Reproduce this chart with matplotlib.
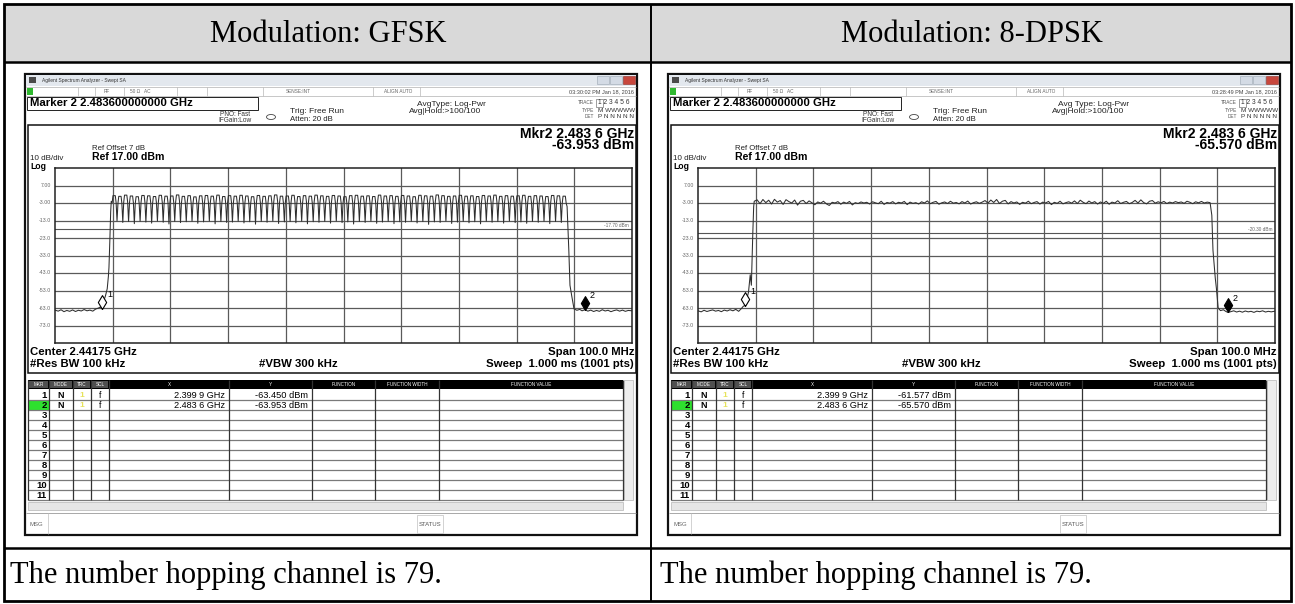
import numpy as np
import matplotlib
matplotlib.use("Agg")
import matplotlib.pyplot as plt
from matplotlib.patches import Rectangle, Ellipse

W, H = 1295, 604

# ---- values ----
modulations = ["GFSK", "8-DPSK"]
footer = "The number hopping channel is 79."
timestamps = ["03:30:02 PM Jan 18, 2016", "03:28:49 PM Jan 18, 2016"]
avg_labels = ["AvgType: Log-Pwr", "Avg Type: Log-Pwr"]
center_mhz = 2441.75
span_mhz = 100.0
ref_dbm = 17.0
db_div = 10.0
disp_line = [-17.70, -20.30]
mkr_freq = [2399.9, 2483.6]
mkr_x_text = ["2.399 9 GHz", "2.483 6 GHz"]
mkr_dbm = [[-63.450, -63.953], [-61.577, -65.570]]
ytick_labels = ["7.00", "-3.00", "-13.0", "-23.0", "-33.0", "-43.0", "-53.0", "-63.0", "-73.0"]
table_cols = ["MKR", "MODE", "TRC", "SCL", "X", "Y", "FUNCTION", "FUNCTION WIDTH", "FUNCTION VALUE"]

channels = np.arange(2402, 2481)  # 79 hopping channels, MHz

gfsk_peak = [1.2, 0.8, 1.5, 1.0, 0.6, 1.3, 1.1, 0.7, 1.4, 0.9,
             1.0, 1.6, 0.8, 1.2, 0.5, 1.1, 1.3, 0.9, 1.5, 0.7,
             1.2, 0.9, 1.4, 1.0, 0.6, 1.3, 0.8, 1.1, 1.6, 0.9,
             1.0, 1.4, 0.7, 1.2, 0.9, 1.5, 1.1, 0.8, 1.3, 1.0,
             0.6, 1.2, 1.4, 0.9, 1.1, 0.7, 1.5, 1.0, 1.2, 0.8,
             1.3, 1.0, 0.6, 1.4, 1.1, 0.9, 1.6, 1.2, 0.8, 1.0,
             1.4, 0.9, 1.1, 0.7, 1.3, 1.0, 1.5, 0.8, 1.2, 0.9,
             1.1, 1.4, 0.8, 1.2, 1.0, 0.7, 1.3, 1.1, 0.9]
gfsk_trough = [-13.2, -14.1, -13.6, -14.8, -13.4, -13.9, -14.5, -13.3, -14.0, -15.0,
               -13.5, -14.2, -13.7, -13.4, -14.6, -13.8, -13.3, -14.9, -13.6, -14.1,
               -13.9, -13.4, -14.4, -13.7, -15.1, -13.5, -14.0, -13.3, -14.7, -13.8,
               -13.6, -14.3, -13.4, -14.9, -13.7, -14.0, -13.5, -14.5, -13.3, -14.2,
               -13.8, -15.0, -13.6, -14.1, -13.4, -14.6, -13.9, -13.5, -14.8, -13.7,
               -14.0, -13.4, -14.4, -13.6, -15.2, -13.8, -14.1, -13.3, -14.7, -13.9,
               -13.5, -14.3, -13.7, -14.9, -13.4, -14.0, -13.6, -14.5, -13.3, -14.2,
               -13.8, -14.6, -13.5, -14.0, -13.4, -14.8, -13.6, -14.1]

gfsk_left_f = [2391.75, 2392.3, 2392.8, 2393.3, 2393.8, 2394.3, 2394.8, 2395.3, 2395.8,
               2396.3, 2396.8, 2397.3, 2397.8, 2398.3, 2398.8, 2399.3, 2399.6, 2399.9,
               2400.2, 2400.5, 2400.8, 2401.0, 2401.1, 2401.25, 2401.4, 2401.5]
gfsk_left_db = [-64.2, -64.8, -64.0, -65.1, -64.4, -64.9, -64.1, -65.0, -64.3,
                -64.7, -63.9, -64.6, -64.2, -64.8, -63.6, -63.0, -62.4, -63.45,
                -59.0, -56.0, -52.0, -45.0, -40.0, -25.0, -8.0, -2.0]
gfsk_right_f = [2480.5, 2480.8, 2481.0, 2481.3, 2481.7, 2482.2, 2482.7, 2483.1, 2483.6,
                2484.1, 2484.6, 2485.1, 2485.6, 2486.1, 2486.6, 2487.1, 2487.6, 2488.1,
                2488.6, 2489.1, 2489.6, 2490.1, 2490.6, 2491.1, 2491.75]
gfsk_right_db = [-5.0, -30.0, -50.0, -56.0, -63.5, -64.3, -63.8, -64.6, -63.953,
                 -64.8, -64.2, -65.0, -64.4, -64.9, -64.0, -64.7, -64.3, -65.1,
                 -64.5, -64.1, -64.8, -64.2, -64.9, -64.4, -64.6]

# 8-DPSK plateau, every 0.5 MHz from 2401.5 to 2480.5 MHz
dpsk_top = [-2.0, -1.2, -3.4, -1.0, -2.8, -1.4, -3.6, -0.9, -2.5, -1.6,
            -3.8, -1.1, -2.2, -3.0, -1.3, -4.2, -2.0, -1.5, -3.3, -1.8,
            -2.9, -4.0, -2.4, -3.1, -2.0, -3.5, -4.4, -2.6, -3.0, -2.2,
            -3.7, -2.5, -3.2, -2.1, -4.1, -2.8, -3.3, -2.4, -3.0, -2.6,
            -3.6, -2.3, -2.9, -3.4, -2.0, -3.8, -2.7, -3.1, -2.2, -3.5,
            -2.6, -3.0, -2.1, -3.9, -2.5, -3.2, -2.8, -3.6, -2.3, -3.0,
            -1.8, -3.4, -2.6, -2.1, -3.7, -2.9, -2.4, -3.3, -2.0, -3.1,
            -2.7, -3.5, -2.2, -3.0, -1.9, -3.6, -2.8, -2.3, -3.2, -2.5,
            -1.6, -3.1, -1.3, -2.7, -1.0, -3.3, -2.0, -1.5, -3.5, -2.2,
            -3.0, -2.4, -3.8, -2.6, -3.1, -2.0, -3.4, -2.7, -2.2, -3.6,
            -2.5, -3.0, -2.1, -3.9, -2.6, -3.2, -2.0, -3.5, -2.8, -2.3,
            -3.1, -1.8, -3.3, -1.4, -2.6, -3.4, -1.9, -3.0, -2.2, -3.6,
            -2.4, -3.2, -2.0, -3.7, -2.5, -3.0, -1.7, -3.3, -2.6, -2.1,
            -3.4, -2.7, -1.5, -3.0, -1.2, -2.8, -3.5, -2.0, -1.6, -3.1,
            -2.3, -2.9, -2.1, -3.3, -2.5, -3.0, -2.2, -2.8, -2.4, -3.2,
            -2.0, -2.6, -3.4, -2.3, -2.9, -2.1, -3.0, -2.5, -2.8]
dpsk_left_f = [2391.75, 2392.3, 2392.8, 2393.3, 2393.8, 2394.3, 2394.8, 2395.3, 2395.8,
               2396.3, 2396.8, 2397.3, 2397.8, 2398.3, 2398.8, 2399.3, 2399.6, 2399.9,
               2400.2, 2400.5, 2400.8, 2401.0, 2401.1, 2401.25, 2401.4]
dpsk_left_db = [-64.6, -65.2, -64.3, -65.0, -64.5, -64.1, -64.8, -64.4, -65.1,
                -64.2, -64.7, -64.0, -64.6, -63.8, -64.9, -63.2, -62.0, -61.577,
                -58.0, -54.0, -44.0, -50.0, -38.0, -20.0, -5.0]
dpsk_right_f = [2480.8, 2481.0, 2481.4, 2481.6, 2481.9, 2482.3, 2482.8, 2483.2, 2483.6,
                2484.1, 2484.6, 2485.1, 2485.6, 2486.1, 2486.6, 2487.1, 2487.6, 2488.1,
                2488.6, 2489.1, 2489.6, 2490.1, 2490.6, 2491.1, 2491.75]
dpsk_right_db = [-10.0, -30.0, -46.0, -52.0, -63.0, -64.5, -64.0, -64.9, -65.57,
                 -65.1, -64.6, -65.3, -64.8, -65.4, -64.7, -65.2, -64.9, -65.5,
                 -64.8, -65.1, -64.6, -65.3, -64.9, -65.2, -64.8]


def gfsk_trace():
    f, d = list(gfsk_left_f), list(gfsk_left_db)
    for k, (c, p) in enumerate(zip(channels, gfsk_peak)):
        f += [c - 0.34, c - 0.2, c + 0.2, c + 0.34]
        d += [p - 4.0, p, p, p - 4.0]
        if k < len(gfsk_trough):
            f.append(c + 0.5)
            d.append(gfsk_trough[k])
    return f + gfsk_right_f, d + gfsk_right_db


def dpsk_trace():
    top_f = list(2401.5 + 0.5 * np.arange(len(dpsk_top)))
    return (dpsk_left_f + top_f + dpsk_right_f,
            dpsk_left_db + dpsk_top + dpsk_right_db)


traces = [gfsk_trace(), dpsk_trace()]

SANS = "Liberation Sans"
SERIF = "Liberation Serif"

fig = plt.figure(figsize=(W / 100, H / 100), dpi=100)
bg = fig.add_axes([0, 0, 1, 1])
bg.set_xlim(0, W)
bg.set_ylim(H, 0)
bg.axis("off")


def box(x0, y0, x1, y1, fc="none", ec="black", lw=0.8, z=2):
    bg.add_patch(Rectangle((x0, y0), x1 - x0, y1 - y0, facecolor=fc,
                           edgecolor=ec, linewidth=lw, zorder=z))


def line(xs, ys, c="black", lw=0.8, z=3):
    bg.plot(xs, ys, color=c, lw=lw, zorder=z, solid_capstyle="butt")


def txt(x, y, s, size, ha="left", c="black", w="normal", fam=SANS, z=5):
    bg.text(x, y, s, fontsize=size, ha=ha, va="center", color=c,
            fontweight=w, family=fam, zorder=z)


def draw_panel(i, dx):
    X = lambda v: v + dx
    # screen outline and title bar
    box(X(25), 74, X(637), 535, fc="white", ec="#111111", lw=1.6, z=1)
    box(X(26), 75, X(636), 86, fc="#e3e8ee", ec="none")
    box(X(29), 77, X(36), 83, fc="#4a4a4a", ec="none", z=3)
    txt(X(42), 80.5, "Agilent Spectrum Analyzer - Swept SA", 3.5, c="#333333")
    box(X(597), 76, X(609), 84, fc="#d4dbe5", ec="#9aa4b0", lw=0.4, z=3)
    box(X(610), 76, X(622), 84, fc="#d4dbe5", ec="#9aa4b0", lw=0.4, z=3)
    box(X(623), 76, X(635), 84, fc="#c8473d", ec="#8a2a22", lw=0.4, z=3)

    # status row
    line([X(26), X(636)], [87, 87], c="#b0b0b0", lw=0.5)
    line([X(26), X(636)], [96, 96], c="#b0b0b0", lw=0.5)
    box(X(27), 88, X(33), 95, fc="#2fb82f", ec="none", z=3)
    for sx in [78, 95, 124, 177, 207, 263, 373, 420]:
        line([X(sx), X(sx)], [87, 96], c="#b8b8b8", lw=0.5)
    txt(X(107), 91.5, "RF", 3.4, ha="center", c="#666666")
    txt(X(140), 91.5, "50 \u03a9   AC", 3.4, ha="center", c="#666666")
    txt(X(298), 91.5, "SENSE:INT", 3.4, ha="center", c="#666666")
    txt(X(398), 91.5, "ALIGN AUTO", 3.4, ha="center", c="#666666")
    txt(X(634), 91.5, timestamps[i], 4.0, ha="right", c="#444444")

    # marker entry + settings
    box(X(27), 97, X(258), 110, ec="#222222", lw=0.7)
    txt(X(30), 103.5, "Marker 2 2.483600000000 GHz", 8.2, w="bold")
    txt(X(250), 114, "PNO: Fast", 4.7, ha="right", c="#333333")
    txt(X(252), 120.5, "IFGain:Low", 4.7, ha="right", c="#333333")
    bg.add_patch(Ellipse((X(271), 117), 9, 5, facecolor="none",
                         edgecolor="#444444", lw=0.6, zorder=3))
    txt(X(290), 111.5, "Trig: Free Run", 6.0, c="#222222")
    txt(X(290), 119.5, "Atten: 20 dB", 5.6, c="#222222")
    txt(X(451), 104, avg_labels[i], 6.0, ha="center", c="#222222")
    txt(X(445), 111.5, "Avg|Hold:>100/100", 6.0, ha="center", c="#222222")
    txt(X(594), 103, "TRACE", 3.4, ha="right", c="#555555")
    txt(X(594), 110, "TYPE", 3.4, ha="right", c="#555555")
    txt(X(594), 117, "DET", 3.4, ha="right", c="#555555")
    box(X(596), 99, X(603), 107, ec="#555555", lw=0.4)
    txt(X(598), 103, "1 2 3 4 5 6", 4.8, c="#333333")
    txt(X(598), 110, "M WWWWW", 4.6, c="#333333")
    txt(X(598), 117, "P N N N N N", 4.6, c="#333333")

    # graph frame
    box(X(28), 125, X(636), 373, ec="#111111", lw=1.1)
    txt(X(634), 133.5, "Mkr2 2.483 6 GHz", 10.0, ha="right", w="bold")
    txt(X(634), 145, "%.3f dBm" % mkr_dbm[i][1], 10.0, ha="right", w="bold")
    txt(X(92), 148, "Ref Offset 7 dB", 5.6, c="#222222")
    txt(X(30), 158, "10 dB/div", 5.8, c="#222222")
    txt(X(92), 157.5, "Ref 17.00 dBm", 7.6, w="bold")
    txt(X(30), 166.5, "Log", 6.2, w="bold")

    # spectrum plot
    px0, px1, py0, py1 = 55, 632, 168, 343
    ax = fig.add_axes([X(px0) / W, 1 - py1 / H, (px1 - px0) / W, (py1 - py0) / H])
    f0 = center_mhz - span_mhz / 2
    ax.set_xlim(f0, f0 + span_mhz)
    ax.set_ylim(ref_dbm - 10 * db_div, ref_dbm)
    ax.set_xticks(f0 + np.arange(1, 10) * span_mhz / 10)
    ax.set_yticks(ref_dbm - np.arange(1, 10) * db_div)
    ax.grid(True, color="#5a5a5a", lw=0.9)
    ax.tick_params(length=0, labelbottom=False, labelleft=False)
    for s in ax.spines.values():
        s.set_color("#222222")
        s.set_linewidth(1.1)
    ax.axhline(disp_line[i], color="#555555", lw=0.8)
    ax.text(0.995, disp_line[i] + 0.6, "%.2f dBm" % disp_line[i], fontsize=3.4,
            color="#666666", ha="right", va="bottom",
            transform=ax.get_yaxis_transform(), family=SANS)
    tf, td = traces[i]
    ax.plot(tf, td, color="#2e2e2e", lw=0.75)
    diamond = [(0, 0), (-0.3, 0.5), (0, 1), (0.3, 0.5), (0, 0)]
    for m in range(2):
        face = "white" if m == 0 else "black"
        ax.plot(mkr_freq[m], mkr_dbm[i][m], marker=diamond, ms=20,
                mfc=face, mec="black", mew=0.8, ls="none")
        ax.annotate(str(m + 1), (mkr_freq[m], mkr_dbm[i][m]), xytext=(3.5, 8.5),
                    textcoords="offset points", fontsize=6.5, family=SANS)
    for k, lab in enumerate(ytick_labels):
        txt(X(51), py0 + (k + 1) * (py1 - py0) / 10, lab, 3.8, ha="right", c="#666666")

    txt(X(30), 352, "Center 2.44175 GHz", 8.2, w="bold")
    txt(X(30), 364, "#Res BW 100 kHz", 8.2, w="bold")
    txt(X(298), 364, "#VBW 300 kHz", 8.2, ha="center", w="bold")
    txt(X(634), 352, "Span 100.0 MHz", 8.2, ha="right", w="bold")
    txt(X(634), 364, "Sweep  1.000 ms (1001 pts)", 8.2, ha="right", w="bold")

    # marker table
    cols = [28, 49, 73, 91, 109, 229, 312, 375, 439, 623]
    box(X(28), 380, X(623), 389, fc="black", ec="none")
    for c0, c1, name in zip(cols[:-1], cols[1:], table_cols):
        if c0 < 109:
            box(X(c0 + 1), 381, X(c1 - 1), 388, fc="#505050", ec="none", z=3)
        txt(X((c0 + c1) / 2), 384.5, name, 3.3, ha="center", c="white")
    row_h = 10
    for r in range(11):
        y0 = 390 + r * row_h
        if r == 1:
            box(X(29), y0 + 0.5, X(48.5), y0 + row_h - 0.5, fc="#2ee02e", ec="none", z=1.5)
        line([X(28), X(623)], [y0 + row_h, y0 + row_h], c="#7a7a7a", lw=0.9)
        txt(X(47), y0 + row_h / 2 + 0.5, str(r + 1), 6.8, ha="right", w="bold")
    for c in cols:
        line([X(c), X(c)], [380, 500], c="#333333", lw=0.9)
    for r in range(2):
        yc = 390 + r * row_h + row_h / 2 + 0.5
        txt(X(61), yc, "N", 6.4, ha="center", w="bold")
        txt(X(82), yc, "1", 6.0, ha="center", c="#e6e25a", w="bold")
        txt(X(100), yc, "f", 6.2, ha="center")
        txt(X(225), yc, mkr_x_text[r], 6.6, ha="right")
        txt(X(308), yc, "%.3f dBm" % mkr_dbm[i][r], 6.7, ha="right")
    box(X(624), 380, X(633), 500, fc="#ededed", ec="#b5b5b5", lw=0.5)
    box(X(28), 502, X(623), 510, fc="#e6e6e6", ec="#b5b5b5", lw=0.5)
    line([X(26), X(636)], [513, 513], c="#9a9a9a", lw=0.6)
    txt(X(30), 524, "MSG", 4.3, c="#666666")
    line([X(48), X(48)], [513, 534], c="#c0c0c0", lw=0.5)
    box(X(417), 515, X(443), 533, fc="white", ec="#c0c0c0", lw=0.5)
    txt(X(430), 524, "STATUS", 4.3, ha="center", c="#555555")


# table frame
box(4, 4, 1291, 62, fc="#d9d9d9", ec="none", z=0.5)
for i, dx in enumerate([0, 643]):
    draw_panel(i, dx)
line([4, 1291], [62, 62], lw=1.8)
line([4, 1291], [548, 548], lw=1.8)
line([651, 651], [4, 601], lw=1.4)
box(4, 4, 1291, 601, lw=2.0, z=6)

txt(328, 35, "Modulation: " + modulations[0], 22, ha="center", fam=SERIF)
txt(972, 35, "Modulation: " + modulations[1], 22, ha="center", fam=SERIF)
txt(10, 575, footer, 22, fam=SERIF)
txt(660, 575, footer, 22, fam=SERIF)

fig.savefig("out.png", dpi=100)
